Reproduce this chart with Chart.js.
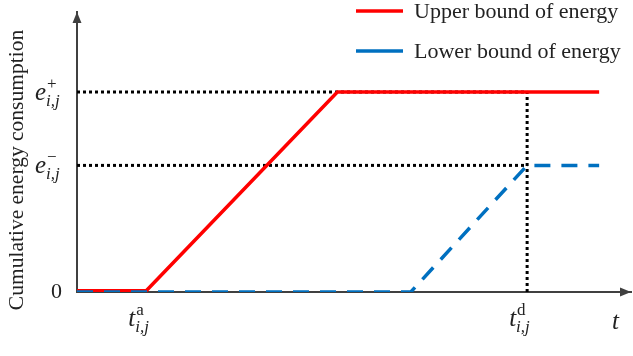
<!DOCTYPE html>
<html>
<head>
<meta charset="utf-8">
<script src="https://cdn.jsdelivr.net/npm/chart.js@4/dist/chart.umd.min.js"></script>
<style>
    html, body { margin: 0; padding: 0; background: #fff; }
</style>
</head>
<body>
<canvas id="chart" width="633" height="356"></canvas>
<script>
// time axis (arbitrary units), energy axis normalised so e+ = 1
const upperX = [0, 1.0, 3.76, 7.54];
const upperY = [0.006, 0.006, 1, 1];
const lowerX = [0, 4.82, 6.5, 7.54];
const lowerY = [0, 0, 0.633, 0.633];

const timeTicks = [1.0, 6.5];
const timeSup = ["a", "d"];
const energyTicks = [1, 0.633];
const energySup = ["+", "\u2212"];

const seriesNames = ["Upper bound of energy", "Lower bound of energy"];
const red = "#ff0000";
const blue = "#0070c0";
const axisColor = "#404040";
const serif = '"Liberation Serif", "Times New Roman", serif';

function pts(xs, ys) {
    return xs.map((x, i) => ({ x: x, y: ys[i] }));
}

function guide(xs, ys) {
    return {
        data: pts(xs, ys),
        borderColor: "#000",
        borderWidth: 3,
        borderDash: [3, 3],
        pointRadius: 0,
        order: 2
    };
}

const datasets = [
    {
        label: seriesNames[1],
        data: pts(lowerX, lowerY),
        borderColor: blue,
        borderWidth: 3.5,
        borderDash: [16, 11],
        pointRadius: 0,
        order: 0
    },
    {
        label: seriesNames[0],
        data: pts(upperX, upperY),
        borderColor: red,
        borderWidth: 3.5,
        pointRadius: 0,
        order: 1
    },
    guide([0, timeTicks[1]], [energyTicks[0], energyTicks[0]]),
    guide([0, timeTicks[1]], [energyTicks[1], energyTicks[1]]),
    guide([timeTicks[1], timeTicks[1]], [0, energyTicks[0]])
];

// math style label: base letter with superscript and i,j subscript
function mathLabel(ctx, base, sup, x, y) {
    ctx.textBaseline = "alphabetic";
    ctx.textAlign = "left";
    ctx.font = "italic 25px " + serif;
    ctx.fillText(base, x, y);
    const w = ctx.measureText(base).width;
    ctx.font = "17px " + serif;
    ctx.fillText(sup, x + w + 1, y - 11);
    ctx.font = "italic 17px " + serif;
    ctx.fillText("i,j", x + w, y + 6);
}

const decor = {
    id: "decor",
    afterDraw(chart) {
        const ctx = chart.ctx;
        const area = chart.chartArea;
        const xs = chart.scales.x;
        const ys = chart.scales.y;
        ctx.save();

        // arrow heads
        ctx.fillStyle = axisColor;
        ctx.beginPath();
        ctx.moveTo(area.left, area.top);
        ctx.lineTo(area.left - 4.5, area.top + 11);
        ctx.lineTo(area.left + 4.5, area.top + 11);
        ctx.closePath();
        ctx.fill();
        ctx.beginPath();
        ctx.moveTo(area.right, area.bottom);
        ctx.lineTo(area.right - 11, area.bottom - 4.5);
        ctx.lineTo(area.right - 11, area.bottom + 4.5);
        ctx.closePath();
        ctx.fill();

        ctx.fillStyle = "#222";
        // y tick labels
        ctx.font = "22px " + serif;
        ctx.textAlign = "right";
        ctx.textBaseline = "middle";
        ctx.fillText("0", area.left - 15, ys.getPixelForValue(0));
        energyTicks.forEach((v, i) => {
            mathLabel(ctx, "e", energySup[i], area.left - 42, ys.getPixelForValue(v) + 8);
        });

        // x tick labels
        timeTicks.forEach((v, i) => {
            mathLabel(ctx, "t", timeSup[i], xs.getPixelForValue(v) - 18, area.bottom + 34);
        });
        ctx.font = "italic 25px " + serif;
        ctx.textAlign = "left";
        ctx.fillText("t", area.right - 19, area.bottom + 37);

        // y axis title
        ctx.save();
        ctx.translate(17, 170);
        ctx.rotate(-Math.PI / 2);
        ctx.font = "21.5px " + serif;
        ctx.textAlign = "center";
        ctx.textBaseline = "middle";
        ctx.fillText("Cumulative energy consumption", 0, 0);
        ctx.restore();

        // legend
        const rows = [[red, seriesNames[0], 11], [blue, seriesNames[1], 51]];
        rows.forEach(r => {
            ctx.strokeStyle = r[0];
            ctx.lineWidth = 3.5;
            ctx.beginPath();
            ctx.moveTo(356, r[2]);
            ctx.lineTo(403, r[2]);
            ctx.stroke();
            ctx.fillStyle = "#222";
            ctx.font = "22px " + serif;
            ctx.textAlign = "left";
            ctx.textBaseline = "middle";
            ctx.fillText(r[1], 414, r[2] + 1);
        });
        ctx.restore();
    }
};

new Chart(document.getElementById("chart"), {
    type: "line",
    data: { datasets: datasets },
    options: {
        responsive: false,
        animation: false,
        layout: { padding: { left: 77, right: 2, top: 12, bottom: 64 } },
        plugins: {
            legend: { display: false },
            tooltip: { enabled: false }
        },
        scales: {
            x: {
                type: "linear",
                min: 0,
                max: 8,
                ticks: { display: false },
                grid: { display: false, drawTicks: false },
                border: { display: true, color: axisColor, width: 2 }
            },
            y: {
                min: 0,
                max: 1.4,
                ticks: { display: false },
                grid: { display: false, drawTicks: false },
                border: { display: true, color: axisColor, width: 2 }
            }
        }
    },
    plugins: [decor]
});
</script>
</body>
</html>
